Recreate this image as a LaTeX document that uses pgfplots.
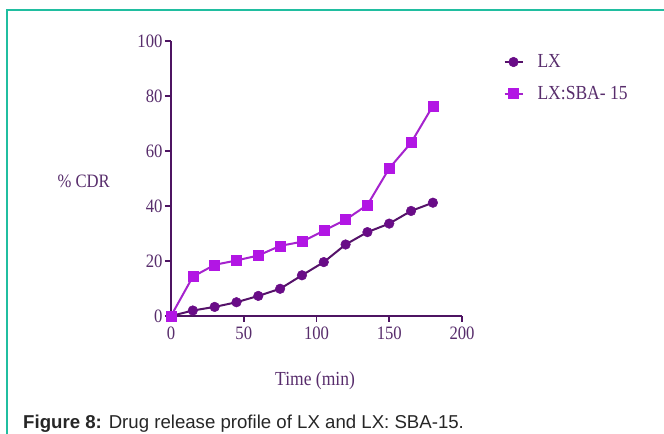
\documentclass[border=0pt]{standalone}
\usepackage{fontspec}
\setmainfont{Liberation Serif}
\newfontfamily\cfont[FakeStretch=0.88]{Liberation Serif}
\newfontfamily\capfont{Liberation Sans}
\usepackage{pgfplots}
\usepackage{pgfplotstable}
\pgfplotsset{compat=1.18}
\definecolor{frame}{RGB}{32,190,160}
\definecolor{axcol}{RGB}{78,20,98}
\definecolor{txtcol}{RGB}{88,45,108}
\definecolor{lxline}{RGB}{85,18,105}
\definecolor{lxmark}{RGB}{105,12,135}
\definecolor{sbaline}{RGB}{165,35,205}
\definecolor{sbamark}{RGB}{178,22,228}
\pgfplotstableread{
t r
0 0
15 2.0
30 3.3
45 5.0
60 7.3
75 9.9
90 14.8
105 19.6
120 26.0
135 30.5
150 33.6
165 38.2
180 41.2
}\lxdata
\pgfplotstableread{
t r
0 0
15 14.3
30 18.6
45 20.2
60 22.0
75 25.5
90 27.0
105 31.0
120 35.0
135 40.4
150 53.7
165 63.0
180 76.4
}\sbadata
\begin{document}
\begin{tikzpicture}
\useasboundingbox (0,0) rectangle (664bp,434bp);
\draw[frame, line width=1.2bp] (7bp,0) -- (7bp,424bp) -- (664bp,424bp);
\begin{axis}[
  at={(171bp,118bp)}, anchor=south west,
  scale only axis, width=291bp, height=275bp,
  xmin=0, xmax=200, ymin=0, ymax=100,
  axis x line*=bottom, axis y line*=left,
  axis line style={line width=2bp, color=axcol},
  xtick={0,50,100,150,200}, ytick={0,20,40,60,80,100},
  tick align=outside, major tick length=6bp,
  tick style={line width=1.6bp, color=axcol},
  /pgf/number format/assume math mode=true,
  ticklabel style={font=\cfont\fontsize{19}{19}\selectfont, text=txtcol},
  xticklabel style={yshift=-1bp},
  yticklabel style={xshift=1bp},
  clip=false,
  xlabel={Time (min)},
  every axis x label/.style={at={(axis description cs:0.495,-0.235)}, anchor=center, font=\cfont\fontsize{20}{20}\selectfont, text=txtcol},
  ylabel={\% CDR},
  every axis y label/.style={at={(axis description cs:-0.30,0.49)}, anchor=center, font=\cfont\fontsize{19}{19}\selectfont, text=txtcol},
  legend style={draw=none, fill=none, at={(axis description cs:1.142,0.958)}, anchor=north west,
    font=\cfont\fontsize{20}{20}\selectfont, text=txtcol, row sep=13bp, inner sep=0pt,
    /tikz/every odd column/.append style={column sep=12bp}},
  legend cell align=left,
  legend image code/.code={\draw[mark repeat=2, mark phase=2] plot coordinates {(0bp,0bp) (9bp,0bp) (18bp,0bp)};},
]
\addplot[color=lxline, line width=2bp, mark=*, mark size=4.8bp, mark options={fill=lxmark, draw=lxmark, line width=0.5bp}] table[x=t, y=r] {\lxdata};
\addlegendentry{LX}
\addplot[color=sbaline, line width=2bp, mark=square*, mark size=5bp, mark options={fill=sbamark, draw=sbamark, line width=0.5bp}] table[x=t, y=r] {\sbadata};
\addlegendentry{LX:SBA- 15}
\end{axis}
\node[anchor=base west, font=\capfont\fontsize{18.7}{20}\selectfont, text=black!85, inner sep=0pt] at (23bp,6bp) {\textbf{Figure 8:} Drug release profile of LX and LX: SBA-15.};
\end{tikzpicture}
\end{document}
